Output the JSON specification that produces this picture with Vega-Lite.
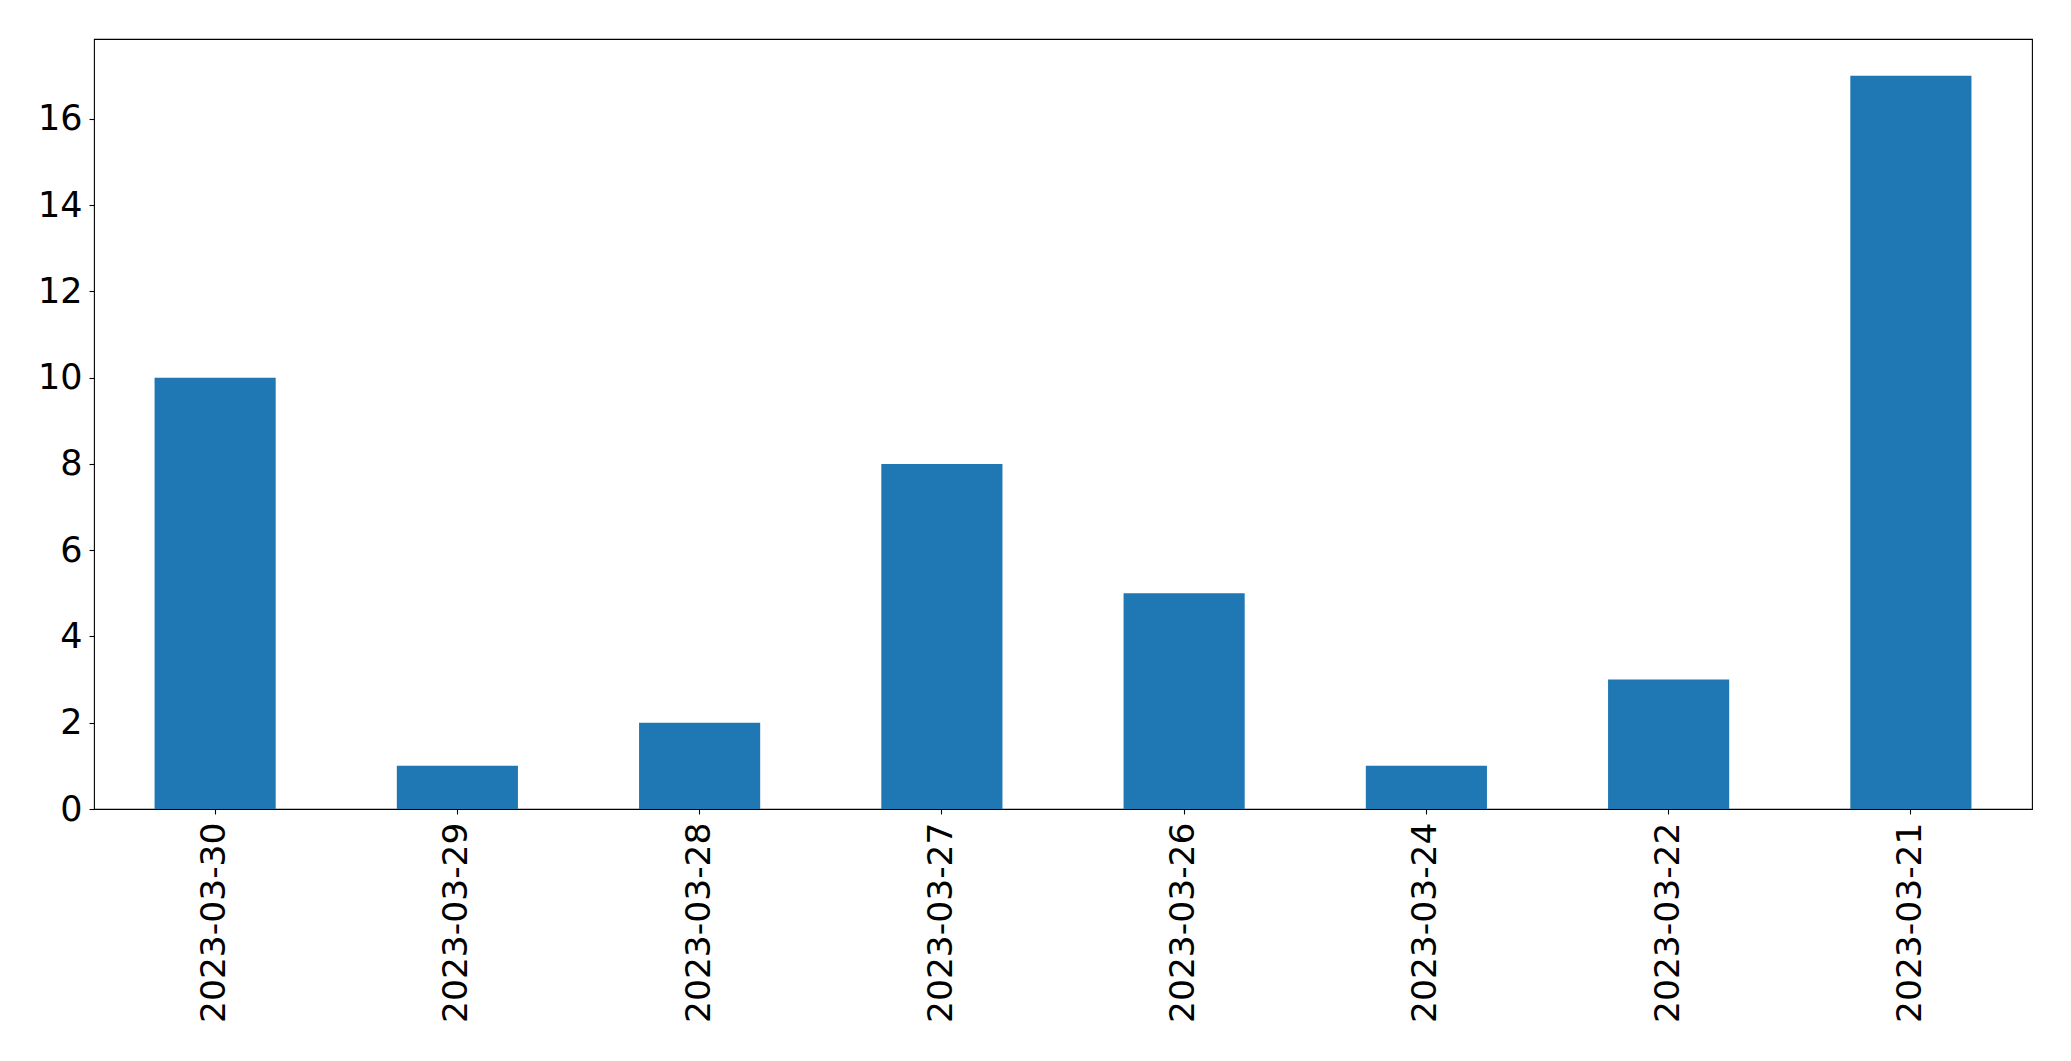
{
  "$schema": "https://vega.github.io/schema/vega-lite/v6.json",
  "width": 1938,
  "height": 770,
  "autosize": {"type": "none"},
  "padding": {"left": 94, "top": 39, "right": 39, "bottom": 252},
  "background": "white",
  "config": {
    "view": {"stroke": "black", "strokeWidth": 1.1},
    "font": "DejaVu Sans"
  },
  "data": {
    "values": [
      {"date": "2023-03-30", "count": 10},
      {"date": "2023-03-29", "count": 1},
      {"date": "2023-03-28", "count": 2},
      {"date": "2023-03-27", "count": 8},
      {"date": "2023-03-26", "count": 5},
      {"date": "2023-03-24", "count": 1},
      {"date": "2023-03-22", "count": 3},
      {"date": "2023-03-21", "count": 17}
    ]
  },
  "mark": {"type": "bar", "color": "#1f77b4"},
  "encoding": {
    "x": {
      "field": "date",
      "type": "nominal",
      "sort": null,
      "scale": {"paddingInner": 0.5, "paddingOuter": 0.25},
      "axis": {
        "title": null,
        "labelAngle": -90,
        "labelFont": "DejaVu Sans",
        "labelFontSize": 34.5,
        "labelLimit": 0,
        "labelColor": "black",
        "labelPadding": 8,
        "tickColor": "black",
        "tickSize": 5,
        "tickWidth": 1.1,
        "domain": false
      }
    },
    "y": {
      "field": "count",
      "type": "quantitative",
      "scale": {"domain": [0, 17.85], "nice": false, "zero": true},
      "axis": {
        "title": null,
        "values": [0, 2, 4, 6, 8, 10, 12, 14, 16],
        "grid": false,
        "labelFont": "DejaVu Sans",
        "labelFontSize": 35,
        "labelColor": "black",
        "labelPadding": 7,
        "tickColor": "black",
        "tickSize": 5,
        "tickWidth": 1.1,
        "domain": false
      }
    }
  }
}
